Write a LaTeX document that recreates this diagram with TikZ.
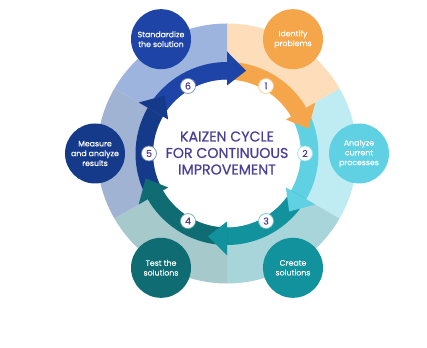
\documentclass[tikz,border=0pt]{standalone}
\usepackage{fontspec}
\setmainfont{Poppins}
\newfontfamily\titlefont{Poppins}[FakeBold=0.8]
\newfontfamily\labelfont{Poppins}[FakeBold=0.3]
\definecolor{c1}{HTML}{F5A54A}
\definecolor{c2}{HTML}{5FD1E3}
\definecolor{c3}{HTML}{12929D}
\definecolor{c4}{HTML}{0E6C72}
\definecolor{c5}{HTML}{163A8A}
\definecolor{c6}{HTML}{1D44A6}
\definecolor{l1}{HTML}{FDDDBA}
\definecolor{l2}{HTML}{BFECF2}
\definecolor{l3}{HTML}{A8D5DA}
\definecolor{l4}{HTML}{A6C9CC}
\definecolor{l5}{HTML}{A0B3D3}
\definecolor{l6}{HTML}{9DB5DE}
\definecolor{titlecol}{HTML}{4A3E96}
\tikzset{
  stepcircle/.style={circle, minimum size=60pt, inner sep=0pt, align=center,
    text=white, font=\labelfont\fontsize{7.8}{9.8}\selectfont},
  numcircle/.style={circle, fill=white, minimum size=15pt, inner sep=0pt,
    line width=0.7pt, text=titlecol, font=\labelfont\fontsize{9.5}{9.5}\selectfont},
}
\begin{document}
\begin{tikzpicture}[x=1pt,y=1pt]
\useasboundingbox (-227,-193.5) rectangle (200,153.5);
% light outer sectors
\foreach \k/\lc in {1/l1,2/l2,3/l3,4/l4,5/l5,6/l6}{
  \pgfmathsetmacro\s{150-60*\k}
  \pgfmathsetmacro\e{90-60*\k}
  \fill[\lc] (\s:74pt) arc[start angle=\s, end angle=\e, radius=74pt]
    -- (\e:130pt) arc[start angle=\e, end angle=\s, radius=130pt] -- cycle;
}
% arrow bodies
\foreach \k/\c in {1/c1,2/c2,3/c3,4/c4,5/c5,6/c6}{
  \pgfmathsetmacro\s{150-60*\k}
  \pgfmathsetmacro\e{90-60*\k}
  \fill[\c] (\s:91.5pt) arc[start angle=\s, end angle=\e, radius=91.5pt]
    -- (\e:74pt) arc[start angle=\e, end angle=\s, radius=74pt] -- cycle;
}
% arrow heads
\foreach \k/\c in {1/c1,2/c2,3/c3,4/c4,5/c5,6/c6}{
  \pgfmathsetmacro\e{90-60*\k}
  \pgfmathsetmacro\t{77-60*\k}
  \fill[\c] (\e:68pt) -- (\e:102pt) -- (\t:85pt) -- cycle;
}
% number circles
\foreach \k/\c in {1/c1,2/c2,3/c3,4/c4,5/c5,6/c6}{
  \pgfmathsetmacro\m{120-60*\k}
  \node[numcircle, draw=\c!60!white] (n\k) at (\m:78pt) {\k};
}
% step circles
\node[stepcircle, fill=c1] (s1) at (60:132pt) {Identify\\problems};
\node[stepcircle, fill=c2] (s2) at (0:132pt) {Analyze\\current\\processes};
\node[stepcircle, fill=c3] (s3) at (-60:132pt) {Create\\solutions};
\node[stepcircle, fill=c4] (s4) at (-120:132pt) {Test the\\solutions};
\node[stepcircle, fill=c5] (s5) at (180:132pt) {Measure\\and analyze\\results};
\node[stepcircle, fill=c6] (s6) at (120:132pt) {Standardize\\the solution};
% title
\node[align=center, text=titlecol, font=\titlefont\fontsize{14.2}{16.5}\selectfont] (title) at (0,0.5) {KAIZEN CYCLE\\FOR CONTINUOUS\\IMPROVEMENT};
\end{tikzpicture}
\end{document}
